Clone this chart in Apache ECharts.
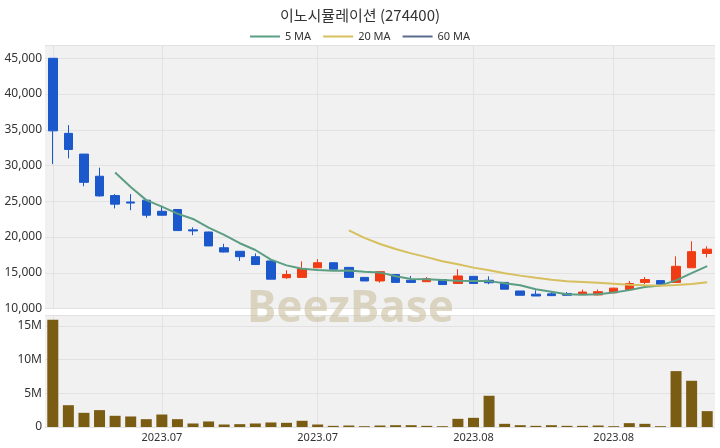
<!DOCTYPE html>
<html><head><meta charset="utf-8">
<script src="https://cdn.jsdelivr.net/npm/echarts@6/dist/echarts.min.js"></script>
<style>html,body{margin:0;padding:0;background:#fff}#c{width:720px;height:448px}</style>
</head><body><div id="c"></div>
<script>
const dates = ['2023.06.30','2023.07.03','2023.07.04','2023.07.05','2023.07.06','2023.07.07','2023.07.10','2023.07.11','2023.07.12','2023.07.13','2023.07.14','2023.07.17','2023.07.18','2023.07.19','2023.07.20','2023.07.21','2023.07.24','2023.07.25','2023.07.26','2023.07.27','2023.07.28','2023.07.31','2023.08.01','2023.08.02','2023.08.03','2023.08.04','2023.08.07','2023.08.08','2023.08.09','2023.08.10','2023.08.11','2023.08.14','2023.08.16','2023.08.17','2023.08.18','2023.08.21','2023.08.22','2023.08.23','2023.08.24','2023.08.25','2023.08.28','2023.08.29','2023.08.30'];
const openP  = [45000,34500,31600,28500,25800,24900,25150,23600,23850,21000,20700,18500,18000,17250,16650,14300,14350,15700,16400,15750,14350,13850,14750,13950,13750,14050,13500,14500,13950,13650,12450,12000,12050,12100,11950,11900,12200,12650,13650,13900,13650,15700,17700];
const closeP = [34850,32250,27650,25750,24600,24750,23050,23050,20900,20850,18750,17900,17250,16150,14100,14750,15600,16400,15500,14350,13850,15150,13650,13650,14150,13350,14550,13500,13600,12700,11850,11750,11800,11850,12300,12350,12850,13500,14050,13400,15900,17950,18300];
const highP  = [45000,35650,31600,29700,26000,26000,25200,24350,23900,21350,20750,19050,18000,17700,16700,15350,16600,16900,16450,15750,14350,15200,14750,14550,14400,14050,15500,14500,14500,13650,12450,12550,12450,12300,12650,12650,12900,13850,14400,13950,17300,19400,18700];
const lowP   = [30200,31000,27100,25650,24000,23750,22700,23000,20900,20250,18750,17850,16650,16150,14100,14150,14350,15700,15500,14350,13850,13600,13650,13600,13700,13350,13500,13500,13400,12700,11850,11750,11750,11800,11900,11850,12200,12650,13400,13400,13600,15650,17150];
const volume = [15.9,3.23,2.1,2.5,1.66,1.56,1.16,1.85,1.16,0.52,0.82,0.37,0.42,0.52,0.67,0.62,0.92,0.37,0.17,0.22,0.12,0.22,0.27,0.27,0.17,0.12,1.21,1.36,4.63,0.47,0.27,0.17,0.27,0.17,0.17,0.22,0.12,0.57,0.47,0.12,8.28,6.85,2.35];
const tickIdx = [0,7,17,27,36];
const labelIdx = [7,17,27,36];
const priceTicks = [10000,15000,20000,25000,30000,35000,40000,45000];

function ma(n){
  return closeP.map((_,i)=>{
    if(i<n-1) return '-';
    let s=0; for(let j=i-n+1;j<=i;j++) s+=closeP[j];
    return +(s/n).toFixed(1);
  });
}
const candle = dates.map((_,i)=>[openP[i],closeP[i],lowP[i],highP[i]]);
const vol = volume.map(v=>v*1e6);
const UP='#f03c14', DOWN='#1b58cc';
const fmt = v => String(v).replace(/\B(?=(\d{3})+(?!\d))/g, ',');

const chart = echarts.init(document.getElementById('c'), null, {renderer:'canvas'});
const xCommon = {
  type:'category', data:dates, boundaryGap:true,
  axisLine:{show:false}, axisTick:{show:false},
  splitLine:{show:true, alignWithLabel:true, interval:(i)=>tickIdx.includes(i), lineStyle:{color:'#e2e2e2',width:1}}
};
chart.setOption({
  animation:false,
  textStyle:{fontFamily:'"Noto Sans", "Noto Sans CJK KR", sans-serif'},
  title:{text:'이노시뮬레이션 (274400)', left:'center', top:3,
    textStyle:{fontSize:15, fontWeight:'normal', color:'#333', fontFamily:'"Noto Sans CJK KR", sans-serif'}},
  legend:{top:26, left:'center', itemWidth:30, itemHeight:2, itemGap:12, icon:'rect',
    data:['5 MA','20 MA','60 MA'], textStyle:{fontSize:11, color:'#333'}},
  graphic:[{type:'text', left:247, top:287, z:1, silent:true,
    style:{text:'BeezBase', fontSize:44, fontWeight:'bold', fill:'rgba(196,186,150,0.55)', fontFamily:'"Noto Sans", sans-serif'}}],
  grid:[
    {left:45, right:5, top:45, height:263.5, backgroundColor:'#f1f1f1', show:true, borderWidth:0},
    {left:45, right:5, top:315, height:112, backgroundColor:'#f1f1f1', show:true, borderWidth:0}
  ],
  xAxis:[
    Object.assign({gridIndex:0, axisLabel:{show:false}}, xCommon),
    Object.assign({gridIndex:1, axisLabel:{show:true, color:'#333', fontSize:11, margin:5,
      interval:(i)=>labelIdx.includes(i), formatter:v=>v.slice(0,7)}}, xCommon)
  ],
  yAxis:[
    {gridIndex:0, type:'value', min:10000, max:46860, interval:5000,
      axisLine:{show:false}, axisTick:{show:false},
      axisLabel:{color:'#333', fontSize:12, margin:3, showMaxLabel:false, formatter:v=>priceTicks.includes(v)?fmt(v):''},
      splitLine:{lineStyle:{color:'#e2e2e2'}}},
    {gridIndex:1, type:'value', min:0, max:16600000, interval:5000000,
      axisLine:{show:false}, axisTick:{show:false},
      axisLabel:{color:'#333', fontSize:12, margin:3, showMaxLabel:false, formatter:v=>v===0?'0':(v%5000000===0?(v/1e6)+'M':'')},
      splitLine:{lineStyle:{color:'#e2e2e2'}}}
  ],
  series:[
    {name:'candle', type:'candlestick', xAxisIndex:0, yAxisIndex:0, data:candle, barWidth:9, z:3,
      itemStyle:{color:UP, color0:DOWN, borderColor:UP, borderColor0:DOWN, borderWidth:1}},
    {name:'5 MA', type:'line', data:ma(5), symbol:'none', smooth:false, z:4,
      lineStyle:{color:'#5b9e83', width:2}, itemStyle:{color:'#5b9e83'}},
    {name:'20 MA', type:'line', data:ma(20), symbol:'none', z:4,
      lineStyle:{color:'#d6bf5c', width:2}, itemStyle:{color:'#d6bf5c'}},
    {name:'60 MA', type:'line', data:ma(60), symbol:'none', z:4,
      lineStyle:{color:'#5a6a8c', width:2}, itemStyle:{color:'#5a6a8c'}},
    {name:'Volume', type:'bar', xAxisIndex:1, yAxisIndex:1, data:vol, barWidth:11, z:3,
      itemStyle:{color:'#7a5c12'}}
  ]
});
</script></body></html>
